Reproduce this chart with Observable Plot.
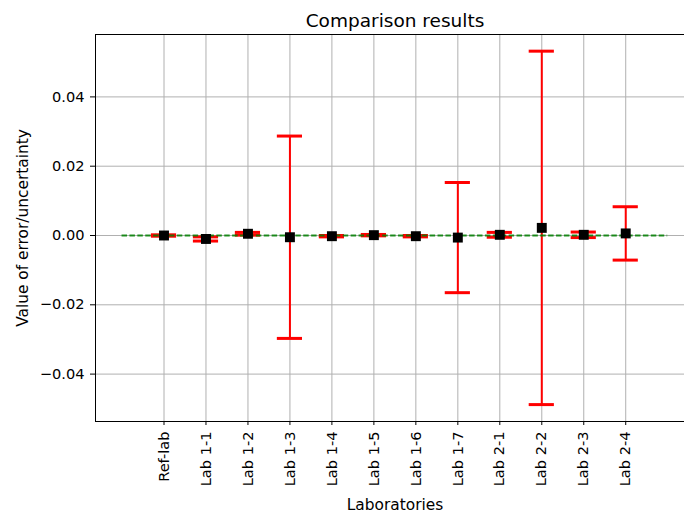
<!DOCTYPE html>
<html>
<head>
<meta charset="utf-8">
<script src="https://cdn.jsdelivr.net/npm/d3@7"></script>
<script src="https://cdn.jsdelivr.net/npm/@observablehq/plot@0.6"></script>
<style>
  html, body { margin: 0; padding: 0; background: #fff; }
  svg { display: block; }
</style>
</head>
<body>
<div id="chart"></div>
<script>
const labs = ["Ref-lab","Lab 1-1","Lab 1-2","Lab 1-3","Lab 1-4","Lab 1-5","Lab 1-6","Lab 1-7","Lab 2-1","Lab 2-2","Lab 2-3","Lab 2-4"];
const values = [0.0000, -0.0010, 0.0005, -0.0005, -0.0002, 0.0001, -0.0002, -0.0006, 0.0002, 0.0022, 0.0002, 0.0006];
const uncert = [0.0002, 0.0006, 0.0004, 0.0292, 0.0002, 0.0002, 0.0002, 0.0159, 0.0007, 0.0510, 0.0008, 0.0077];
const yTicks = [-0.04, -0.02, 0.00, 0.02, 0.04];

const data = labs.map((lab, i) => ({i, lab, v: values[i], e: uncert[i]}));
const idx = d3.range(labs.length);
const capHalf = 0.3;
const font = "DejaVu Sans, Liberation Sans, sans-serif";

const chart = Plot.plot({
  width: 684,
  height: 515,
  marginTop: 34,
  marginBottom: 94,
  marginLeft: 95,
  marginRight: 0,
  style: {fontFamily: font, fontSize: "14.6px", color: "#000", background: "#fff"},
  x: {type: "linear", domain: [-1.632, 12.40]},
  y: {domain: [-0.05368, 0.05801]},
  marks: [
    Plot.gridX(idx, {stroke: "#b0b0b0", strokeOpacity: 1, strokeWidth: 1}),
    Plot.gridY(yTicks, {stroke: "#b0b0b0", strokeOpacity: 1, strokeWidth: 1}),
    Plot.axisY(yTicks, {tickFormat: d3.format(".2f"), tickSize: 5, tickPadding: 6, fontSize: 14.6, label: null}),
    Plot.axisX(idx, {tickFormat: i => labs[i], tickRotate: -90, tickSize: 4, tickPadding: 6, fontSize: 14.6, label: null}),
    Plot.frame({anchor: "top", stroke: "#000"}),
    Plot.frame({anchor: "left", stroke: "#000"}),
    Plot.frame({anchor: "bottom", stroke: "#000"}),
    // error bars
    Plot.ruleX(data, {x: "i", y1: d => d.v - d.e, y2: d => d.v + d.e, stroke: "red", strokeWidth: 2}),
    Plot.ruleY(data, {y: d => d.v + d.e, x1: d => d.i - capHalf, x2: d => d.i + capHalf, stroke: "red", strokeWidth: 3}),
    Plot.ruleY(data, {y: d => d.v - d.e, x1: d => d.i - capHalf, x2: d => d.i + capHalf, stroke: "red", strokeWidth: 3}),
    // reference line
    Plot.ruleY([0], {x1: -1, x2: labs.length, stroke: "green", strokeWidth: 2, strokeDasharray: "5.5,2.4", strokeOpacity: 0.85}),
    // values
    Plot.dot(data, {x: "i", y: "v", symbol: "square", r: 5.6, fill: "black", stroke: "none"}),
    // title & labels
    Plot.text(["Comparison results"], {frameAnchor: "top", lineAnchor: "bottom", dx: 5, dy: -7.5, fontSize: 18.5, fill: "black"}),
    Plot.text(["Laboratories"], {frameAnchor: "bottom", lineAnchor: "bottom", dx: 5, dy: 88, fontSize: 15.4, fill: "black"}),
    Plot.text(["Value of error/uncertainty"], {frameAnchor: "left", textAnchor: "middle", dx: -72.5, rotate: -90, fontSize: 15.4, fill: "black"})
  ]
});
document.getElementById("chart").appendChild(chart);
</script>
</body>
</html>
